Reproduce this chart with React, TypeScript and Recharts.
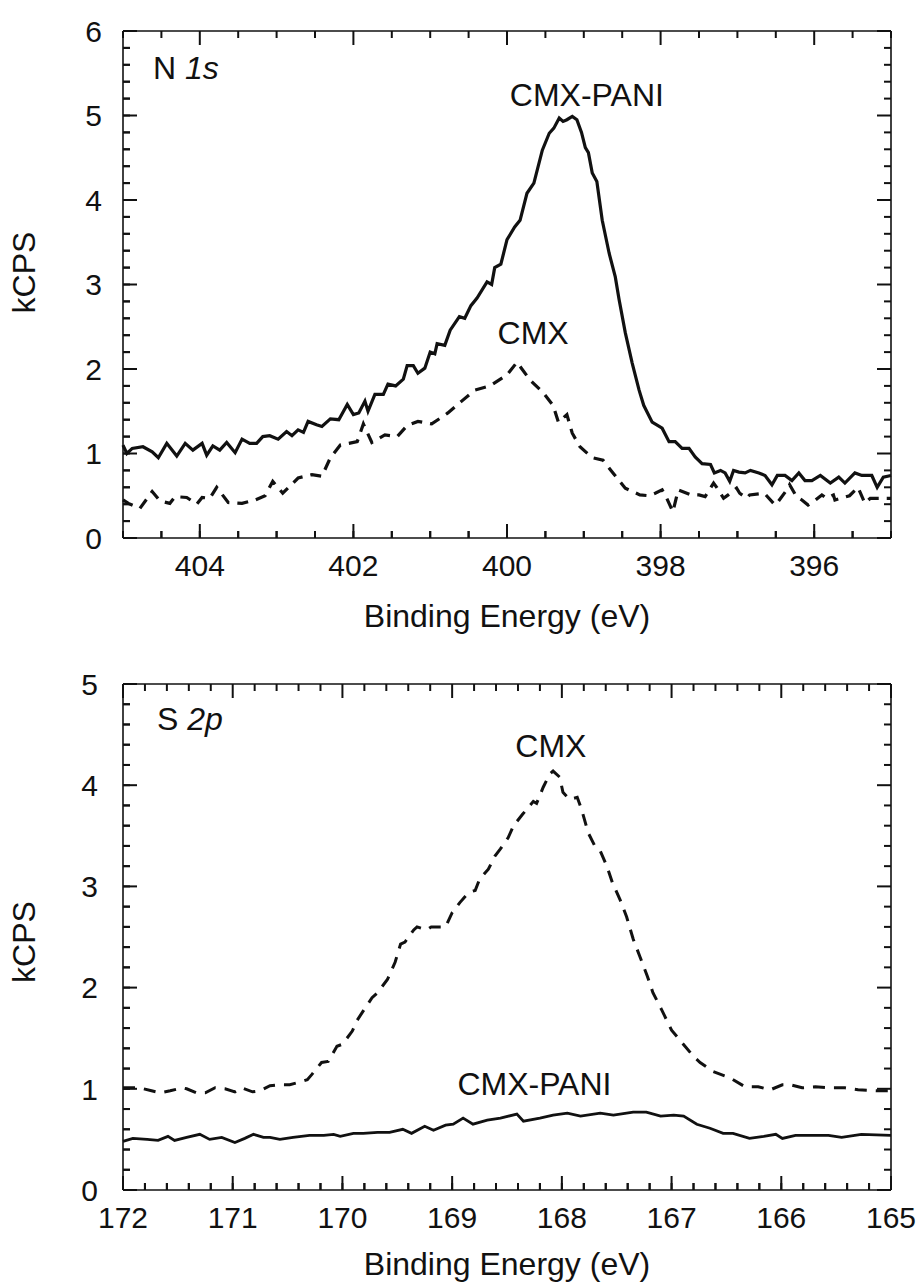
import { LineChart, Line, XAxis, YAxis, ReferenceDot } from "recharts";

const FONT = "'Liberation Sans', Arial, Helvetica, sans-serif";
const INK = "#111111";

// N 1s panel — CMX-PANI (solid)
const n1sPaniEv = [
  405.0, 404.95, 404.88, 404.74, 404.62, 404.54, 404.43, 404.3, 404.19, 404.09,
  403.97, 403.91, 403.83, 403.74, 403.65, 403.54, 403.45, 403.35, 403.26, 403.18,
  403.09, 402.98, 402.87, 402.8, 402.72, 402.65, 402.59, 402.48, 402.41, 402.3,
  402.19, 402.08, 402.0, 401.93, 401.85, 401.81, 401.72, 401.61, 401.55, 401.45,
  401.35, 401.3, 401.22, 401.16, 401.07, 401.0, 400.94, 400.91, 400.81, 400.74,
  400.62, 400.55, 400.47, 400.39, 400.26, 400.2, 400.16, 400.08, 400.0, 399.9,
  399.83, 399.74, 399.65, 399.54, 399.45, 399.39, 399.32, 399.27, 399.22, 399.15,
  399.09, 399.03, 398.98, 398.94, 398.89, 398.83, 398.76, 398.67, 398.59, 398.54,
  398.46, 398.37, 398.28, 398.22, 398.11, 397.98, 397.89, 397.81, 397.72, 397.63,
  397.55, 397.46, 397.35, 397.3, 397.22, 397.16, 397.1, 397.05, 396.98, 396.9,
  396.83, 396.72, 396.64, 396.55, 396.48, 396.38, 396.29, 396.2, 396.12, 396.03,
  395.92, 395.79, 395.68, 395.6, 395.47, 395.38, 395.25, 395.18, 395.1, 395.0,
];
const n1sPaniK = [
  1.1, 1.0, 1.06, 1.08, 1.02, 0.95, 1.12, 0.97, 1.12, 1.04,
  1.12, 0.98, 1.09, 1.04, 1.13, 1.01, 1.17, 1.12, 1.12, 1.2,
  1.21, 1.17, 1.26, 1.21, 1.28, 1.25, 1.38, 1.34, 1.32, 1.41,
  1.4, 1.58, 1.46, 1.48, 1.62, 1.5, 1.7, 1.7, 1.82, 1.8,
  1.88, 2.04, 2.04, 1.95, 2.01, 2.2, 2.18, 2.3, 2.28, 2.46,
  2.62, 2.6, 2.75, 2.84, 3.03, 3.0, 3.2, 3.24, 3.53, 3.68,
  3.76, 4.08, 4.2, 4.59, 4.79, 4.85, 4.97, 4.93, 4.95, 4.99,
  4.95, 4.8, 4.62, 4.56, 4.32, 4.22, 3.76, 3.37, 3.09, 2.82,
  2.43, 2.07, 1.75, 1.57, 1.37, 1.3, 1.14, 1.14, 1.06, 1.06,
  0.96, 0.88, 0.87, 0.77, 0.8, 0.77, 0.67, 0.8, 0.78, 0.77,
  0.8, 0.77, 0.74, 0.63, 0.74, 0.74, 0.68, 0.77, 0.68, 0.68,
  0.74, 0.65, 0.72, 0.65, 0.77, 0.74, 0.74, 0.6, 0.72, 0.74,
];

// N 1s panel — CMX (dashed)
const n1sCmxEv = [
  405.0, 404.93, 404.78, 404.62, 404.52, 404.39, 404.32, 404.17, 404.04, 403.97,
  403.87, 403.78, 403.63, 403.45, 403.28, 403.15, 403.05, 402.92, 402.72, 402.54,
  402.41, 402.3, 402.17, 401.95, 401.87, 401.76, 401.59, 401.43, 401.3, 401.16,
  400.98, 400.77, 400.59, 400.42, 400.22, 400.0, 399.87, 399.7, 399.53, 399.4,
  399.33, 399.22, 399.15, 399.05, 398.89, 398.75, 398.62, 398.46, 398.27, 398.15,
  398.07, 397.98, 397.92, 397.84, 397.77, 397.6, 397.5, 397.42, 397.31, 397.27,
  397.18, 397.12, 397.01, 396.97, 396.88, 396.84, 396.65, 396.51, 396.47, 396.34,
  396.32, 396.23, 396.16, 396.08, 396.01, 395.9, 395.84, 395.75, 395.73, 395.54,
  395.43, 395.34, 395.27, 395.06, 395.0,
];
const n1sCmxK = [
  0.45, 0.41, 0.35, 0.55, 0.44, 0.41, 0.49, 0.48, 0.4, 0.48,
  0.47, 0.6, 0.42, 0.41, 0.45, 0.5, 0.67, 0.53, 0.71, 0.75,
  0.73, 0.95, 1.1, 1.14, 1.35, 1.13, 1.22, 1.2, 1.33, 1.38,
  1.35, 1.48, 1.62, 1.75, 1.8, 1.93, 2.08, 1.87, 1.72, 1.57,
  1.37, 1.46, 1.24, 1.08, 0.95, 0.92, 0.77, 0.59, 0.51, 0.5,
  0.53, 0.57, 0.47, 0.31, 0.57, 0.51, 0.51, 0.49, 0.65, 0.6,
  0.47, 0.51, 0.59, 0.53, 0.47, 0.51, 0.53, 0.39, 0.43, 0.59,
  0.63, 0.49, 0.45, 0.39, 0.43, 0.51, 0.47, 0.51, 0.45, 0.5,
  0.6, 0.41, 0.47, 0.47, 0.47,
];

// S 2p panel — CMX (dashed)
const s2pCmxEv = [
  172.0, 171.85, 171.74, 171.66, 171.57, 171.46, 171.42, 171.33, 171.25, 171.16,
  171.07, 170.98, 170.92, 170.82, 170.75, 170.66, 170.57, 170.48, 170.41, 170.32,
  170.28, 170.19, 170.13, 170.05, 170.0, 169.91, 169.87, 169.81, 169.73, 169.68,
  169.59, 169.52, 169.47, 169.43, 169.35, 169.32, 169.23, 169.19, 169.06, 169.0,
  168.93, 168.85, 168.79, 168.75, 168.67, 168.61, 168.56, 168.49, 168.44, 168.36,
  168.26, 168.23, 168.17, 168.11, 168.08, 168.02, 167.99, 167.93, 167.86, 167.82,
  167.76, 167.7, 167.65, 167.59, 167.54, 167.47, 167.41, 167.35, 167.29, 167.22,
  167.17, 167.09, 167.0, 166.9, 166.8, 166.74, 166.62, 166.47, 166.33, 166.21,
  166.1, 165.99, 165.92, 165.81, 165.69, 165.57, 165.42, 165.3, 165.11, 165.0,
];
const s2pCmxK = [
  1.01, 1.01, 0.98, 0.96, 0.98, 1.01, 1.0, 0.96, 0.96, 1.01,
  1.0, 0.97, 1.01, 0.97, 0.98, 1.03, 1.04, 1.04, 1.06, 1.09,
  1.14, 1.26, 1.27, 1.42, 1.44, 1.57, 1.67, 1.77, 1.9, 1.95,
  2.08, 2.25, 2.43, 2.45, 2.57, 2.6, 2.57, 2.6, 2.6, 2.74,
  2.84, 2.94, 2.96, 3.07, 3.17, 3.3, 3.37, 3.48, 3.6, 3.71,
  3.84, 3.82, 3.98, 4.11, 4.14, 4.08, 3.93, 3.86, 3.88, 3.76,
  3.53, 3.4, 3.35, 3.2, 3.04, 2.87, 2.7, 2.48, 2.31, 2.11,
  1.95, 1.78, 1.58, 1.45, 1.32, 1.26, 1.17, 1.11, 1.02, 1.02,
  0.99, 1.04, 1.04, 1.01, 1.02, 1.01, 1.01, 0.99, 0.98, 0.98,
];

// S 2p panel — CMX-PANI (solid)
const s2pPaniEv = [
  172.0, 171.91, 171.78, 171.68, 171.59, 171.53, 171.42, 171.3, 171.21, 171.1,
  170.98, 170.89, 170.81, 170.72, 170.66, 170.57, 170.45, 170.3, 170.17, 170.08,
  170.02, 169.9, 169.81, 169.68, 169.57, 169.45, 169.37, 169.25, 169.17, 169.06,
  168.99, 168.9, 168.81, 168.68, 168.56, 168.41, 168.35, 168.2, 168.08, 167.95,
  167.83, 167.65, 167.53, 167.35, 167.23, 167.1, 166.98, 166.89, 166.77, 166.65,
  166.53, 166.44, 166.29, 166.16, 166.05, 165.99, 165.87, 165.72, 165.57, 165.45,
  165.27, 165.0,
];
const s2pPaniK = [
  0.48, 0.51, 0.5, 0.49, 0.53, 0.49, 0.52, 0.55, 0.5, 0.52,
  0.47, 0.51, 0.55, 0.52, 0.52, 0.5, 0.52, 0.54, 0.54, 0.55,
  0.53, 0.56, 0.56, 0.57, 0.57, 0.6, 0.56, 0.63, 0.59, 0.64,
  0.65, 0.71, 0.65, 0.69, 0.71, 0.75, 0.68, 0.71, 0.74, 0.76,
  0.73, 0.76, 0.74, 0.77, 0.77, 0.73, 0.74, 0.73, 0.65, 0.61,
  0.56, 0.56, 0.51, 0.53, 0.55, 0.51, 0.54, 0.54, 0.54, 0.52,
  0.55, 0.54,
];

const range = (a: number, b: number, step: number) => {
  const out: number[] = [];
  for (let v = a; v <= b + 1e-9; v += step) out.push(Math.round(v * 100) / 100);
  return out;
};

const zip = (ev: number[], k: number[]) => ev.map((e, i) => ({ e, k: k[i] }));

const isMajor = (v: number, step: number) => Math.abs(v / step - Math.round(v / step)) < 1e-6;

type Side = "bottom" | "top" | "left" | "right";

const TICK_W = 2;
const MINOR_LEN = 7;
const MAJOR_LEN = 14;

// tick labels; recharts hands over x/y = axis + MINOR_LEN - tickMargin(2) on the inward side
function labelFor(side: "bottom" | "left", majorStep: number, gap: number) {
  return (props: any) => {
    const v = Number(props.payload.value);
    if (!isMajor(v, majorStep)) return <g />;
    if (side === "bottom") {
      const y0 = Number(props.y) + MINOR_LEN - 2;
      return (
        <text x={props.x} y={y0 + gap} textAnchor="middle" fontFamily={FONT} fontSize={30} fill={INK}>
          {v}
        </text>
      );
    }
    const x0 = Number(props.x) - MINOR_LEN + 2;
    return (
      <text x={x0 - gap} y={props.y} dy="0.36em" textAnchor="end" fontFamily={FONT} fontSize={30} fill={INK}>
        {v}
      </text>
    );
  };
}

// inward ticks on all four sides, long ones on the labelled values
function tickMarks(side: Side, values: number[], majorStep: number, xDomain: number[], yDomain: number[]) {
  return values.map((v) => {
    const len = isMajor(v, majorStep) ? MAJOR_LEN : MINOR_LEN;
    const at =
      side === "bottom" ? { x: v, y: yDomain[0] }
      : side === "top" ? { x: v, y: yDomain[1] }
      : side === "left" ? { x: xDomain[1], y: v }
      : { x: xDomain[0], y: v };
    const shape = (p: any) => {
      const d =
        side === "bottom" ? `M${p.cx},${p.cy}v${-len}`
        : side === "top" ? `M${p.cx},${p.cy}v${len}`
        : side === "left" ? `M${p.cx},${p.cy}h${len}`
        : `M${p.cx},${p.cy}h${-len}`;
      return <path d={d} stroke={INK} strokeWidth={TICK_W} />;
    };
    return (
      <ReferenceDot key={`${side}-${v}`} xAxisId="b" yAxisId="l" x={at.x} y={at.y} r={6} shape={shape} />
    );
  });
}

const note = (text: string, anchor: "start" | "middle", italic?: string) => (p: any) => (
  <text x={p.viewBox.x + 6} y={p.viewBox.y + 6} textAnchor={anchor} fontFamily={FONT} fontSize={32} fill={INK}>
    {text}
    {italic && <tspan fontStyle="italic">{italic}</tspan>}
  </text>
);

interface PanelProps {
  height: number;
  top: number;
  xHeight: number;
  xDomain: [number, number];
  yDomain: [number, number];
  xTicks: number[];
  yTicks: number[];
  xMajor: number;
  titleDy: number;
  kcpsDy: number;
  yGap: number;
  children: React.ReactNode;
}

function Panel(p: PanelProps) {
  const axisLine = { stroke: INK, strokeWidth: 1.6 };
  const tickLine = { stroke: INK, strokeWidth: TICK_W };
  return (
    <LineChart width={924} height={p.height} margin={{ top: p.top - 1, right: 32, left: 0, bottom: 0 }}>
      <XAxis
        xAxisId="b"
        dataKey="e"
        type="number"
        domain={p.xDomain}
        reversed
        ticks={p.xTicks}
        interval={0}
        height={p.xHeight}
        tickSize={-MINOR_LEN}
        tickLine={tickLine}
        axisLine={axisLine}
        tick={labelFor("bottom", p.xMajor, 38)}
        label={(lp: any) => (
          <text
            x={lp.viewBox.x + lp.viewBox.width / 2}
            y={lp.viewBox.y + p.titleDy}
            textAnchor="middle"
            fontFamily={FONT}
            fontSize={32}
            fill={INK}
          >
            Binding Energy (eV)
          </text>
        )}
      />
      <XAxis xAxisId="t" orientation="top" dataKey="e" type="number" domain={p.xDomain} reversed height={1} axisLine={axisLine} tick={false} tickLine={false} />
      <YAxis
        yAxisId="l"
        type="number"
        domain={p.yDomain}
        ticks={p.yTicks}
        interval={0}
        width={123}
        tickSize={-MINOR_LEN}
        tickLine={tickLine}
        axisLine={axisLine}
        tick={labelFor("left", 1, p.yGap)}
        label={(lp: any) => {
          const cx = 35;
          const cy = lp.viewBox.y + lp.viewBox.height / 2 + p.kcpsDy;
          return (
            <text
              x={cx}
              y={cy}
              transform={`rotate(-90, ${cx}, ${cy})`}
              textAnchor="middle"
              fontFamily={FONT}
              fontSize={32}
              fill={INK}
            >
              kCPS
            </text>
          );
        }}
      />
      <YAxis yAxisId="r" orientation="right" type="number" domain={p.yDomain} width={1} axisLine={axisLine} tick={false} tickLine={false} />
      {p.children}
      {tickMarks("bottom", p.xTicks, p.xMajor, p.xDomain, p.yDomain)}
      {tickMarks("top", p.xTicks, p.xMajor, p.xDomain, p.yDomain)}
      {tickMarks("left", p.yTicks, 1, p.xDomain, p.yDomain)}
      {tickMarks("right", p.yTicks, 1, p.xDomain, p.yDomain)}
    </LineChart>
  );
}

const hidden = { fill: "none", stroke: "none" };

export default function App() {
  return (
    <div style={{ position: "absolute", left: 0, top: 0, width: 924, height: 1284, background: "#fff" }}>
      <Panel
        height={640}
        top={31}
        xHeight={102}
        xDomain={[395, 405]}
        yDomain={[0, 6]}
        xTicks={range(395, 405, 0.5)}
        yTicks={range(0, 6, 0.2)}
        xMajor={2}
        titleDy={89}
        kcpsDy={-12}
        yGap={21}
      >
        <Line
          data={zip(n1sCmxEv, n1sCmxK)}
          dataKey="k"
          xAxisId="b"
          yAxisId="l"
          type="linear"
          stroke={INK}
          strokeWidth={3.2}
          strokeDasharray="11 8"
          dot={false}
          isAnimationActive={false}
        />
        <Line
          data={zip(n1sPaniEv, n1sPaniK)}
          dataKey="k"
          xAxisId="b"
          yAxisId="l"
          type="linear"
          stroke={INK}
          strokeWidth={3.2}
          dot={false}
          isAnimationActive={false}
        />
        <ReferenceDot xAxisId="b" yAxisId="l" x={404.61} y={5.43} r={6} {...hidden} label={note("N\u00a0", "start", "1s")} />
        <ReferenceDot xAxisId="b" yAxisId="l" x={398.96} y={5.11} r={6} {...hidden} label={note("CMX-PANI", "middle")} />
        <ReferenceDot xAxisId="b" yAxisId="l" x={399.66} y={2.3} r={6} {...hidden} label={note("CMX", "middle")} />
      </Panel>
      <Panel
        height={644}
        top={44}
        xHeight={94}
        xDomain={[165, 172]}
        yDomain={[0, 5]}
        xTicks={range(165, 172, 0.2)}
        yTicks={range(0, 5, 0.2)}
        xMajor={1}
        titleDy={85}
        kcpsDy={5}
        yGap={25}
      >
        <Line
          data={zip(s2pCmxEv, s2pCmxK)}
          dataKey="k"
          xAxisId="b"
          yAxisId="l"
          type="linear"
          stroke={INK}
          strokeWidth={3}
          strokeDasharray="12 9"
          dot={false}
          isAnimationActive={false}
        />
        <Line
          data={zip(s2pPaniEv, s2pPaniK)}
          dataKey="k"
          xAxisId="b"
          yAxisId="l"
          type="linear"
          stroke={INK}
          strokeWidth={2.8}
          dot={false}
          isAnimationActive={false}
        />
        <ReferenceDot xAxisId="b" yAxisId="l" x={171.69} y={4.55} r={6} {...hidden} label={note("S\u00a0", "start", "2p")} />
        <ReferenceDot xAxisId="b" yAxisId="l" x={168.1} y={4.28} r={6} {...hidden} label={note("CMX", "middle")} />
        <ReferenceDot xAxisId="b" yAxisId="l" x={168.25} y={0.94} r={6} {...hidden} label={note("CMX-PANI", "middle")} />
      </Panel>
    </div>
  );
}
